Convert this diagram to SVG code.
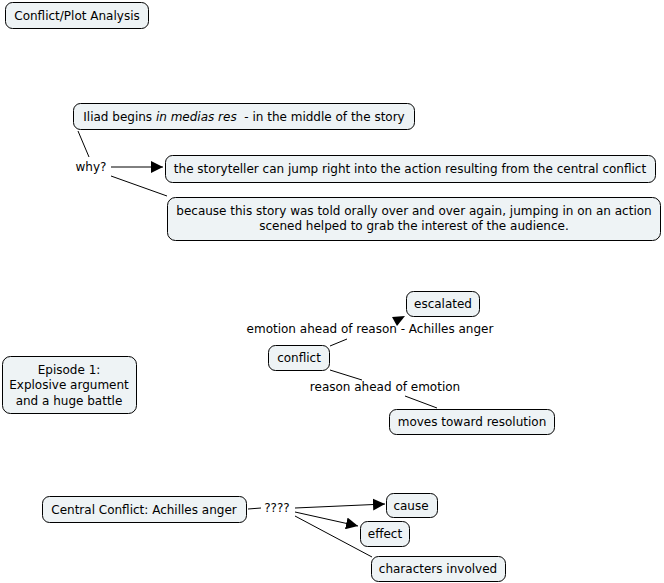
<svg xmlns="http://www.w3.org/2000/svg" width="664" height="583" viewBox="0 0 664 583">
<style>
.n{fill:#eef3f5;stroke:#000;stroke-width:1}
.t{font-family:"DejaVu Sans",Verdana,sans-serif;font-size:12px;fill:#000;text-anchor:middle;white-space:pre}
.l{stroke:#000;stroke-width:1;fill:none}
</style>
<defs>
<marker id="a" viewBox="0 0 10 10" refX="10" refY="5" markerWidth="12" markerHeight="12" markerUnits="userSpaceOnUse" orient="auto"><path d="M0,0L10,5L0,10z" fill="#000"/></marker>
</defs>
<rect width="664" height="583" fill="#fff"/>
<g id="connectors">
<line class="l" x1="78" y1="131" x2="89" y2="157"/>
<line class="l" x1="111" y1="167" x2="163" y2="167" marker-end="url(#a)"/>
<line class="l" x1="111" y1="176" x2="167" y2="196"/>
<polygon points="392,317 405,316 397,326" fill="#000"/>
<line class="l" x1="330" y1="346" x2="347" y2="339"/>
<line class="l" x1="330" y1="370" x2="362" y2="380"/>
<line class="l" x1="405" y1="396" x2="437" y2="408"/>
<line class="l" x1="248" y1="509" x2="261" y2="508"/>
<line class="l" x1="295" y1="508" x2="385" y2="504" marker-end="url(#a)"/>
<line class="l" x1="295" y1="512" x2="358" y2="526" marker-end="url(#a)"/>
<line class="l" x1="295" y1="516" x2="372" y2="557"/>
<text class="t" x="91" y="171">why?</text>
<text class="t" x="370" y="333">emotion ahead of reason - Achilles anger</text>
<text class="t" x="385" y="391">reason ahead of emotion</text>
<text class="t" x="277" y="512">????</text>
</g>
<g id="n1"><rect class="n" x="5.5" y="2.5" width="143" height="26" rx="7"/><text class="t" x="77" y="20">Conflict/Plot Analysis</text></g>
<g id="n2"><rect class="n" x="73.5" y="103.5" width="341" height="26" rx="7"/><text class="t" x="244" y="121">Iliad begins <tspan font-style="italic">in medias res</tspan>  - in the middle of the story</text></g>
<g id="n3"><rect class="n" x="165.5" y="155.5" width="490" height="27" rx="7"/><text class="t" x="410" y="173">the storyteller can jump right into the action resulting from the central conflict</text></g>
<g id="n4"><rect class="n" x="167.5" y="197.5" width="493" height="43" rx="8"/><text class="t" x="414" y="215">because this story was told orally over and over again, jumping in on an action</text><text class="t" x="414" y="230">scened helped to grab the interest of the audience.</text></g>
<g id="n5"><rect class="n" x="406.5" y="291.5" width="73" height="25" rx="7"/><text class="t" x="443" y="308">escalated</text></g>
<g id="n6"><rect class="n" x="268.5" y="345.5" width="61" height="25" rx="7"/><text class="t" x="299" y="362">conflict</text></g>
<g id="n7"><rect class="n" x="389.5" y="409.5" width="165" height="25" rx="7"/><text class="t" x="472" y="426">moves toward resolution</text></g>
<g id="n8"><rect class="n" x="2.5" y="356.5" width="134" height="57" rx="8"/><text class="t" x="69" y="374">Episode 1:</text><text class="t" x="69" y="389">Explosive argument</text><text class="t" x="69" y="405">and a huge battle</text></g>
<g id="n9"><rect class="n" x="42.5" y="496.5" width="204" height="26" rx="7"/><text class="t" x="144" y="514">Central Conflict: Achilles anger</text></g>
<g id="n10"><rect class="n" x="386.5" y="493.5" width="51" height="24" rx="7"/><text class="t" x="411" y="510">cause</text></g>
<g id="n11"><rect class="n" x="360.5" y="521.5" width="49" height="25" rx="7"/><text class="t" x="385" y="538">effect</text></g>
<g id="n12"><rect class="n" x="371.5" y="556.5" width="134" height="25" rx="7"/><text class="t" x="438" y="573">characters involved</text></g>
</svg>
